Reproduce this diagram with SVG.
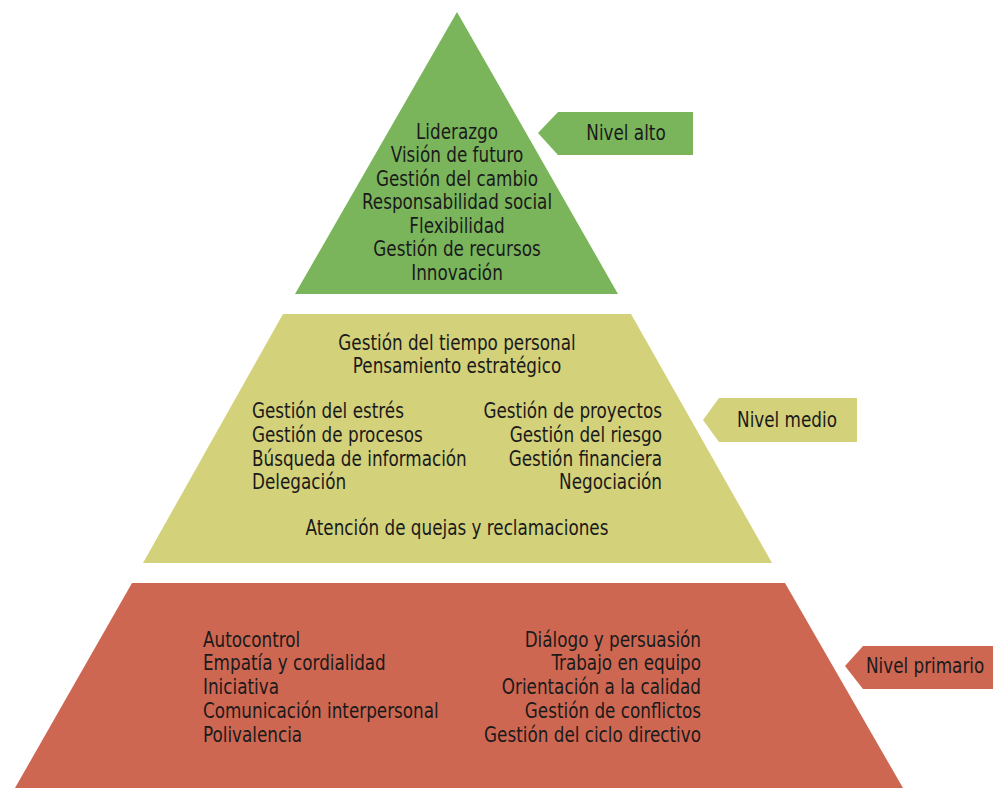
<svg xmlns="http://www.w3.org/2000/svg" width="993" height="788" viewBox="0 0 993 788">
<style>
text{font-family:"DejaVu Sans Condensed","DejaVu Sans",sans-serif;font-stretch:condensed;font-size:21px;fill:#1a1a1a}
.c{text-anchor:middle}
.r{text-anchor:end}
.g{fill:#7ab55c}
.y{fill:#d4d17b}
.o{fill:#ce6752}
</style>
<rect width="993" height="788" fill="#ffffff"/>
<g id="nivel-alto">
<polygon class="g" points="457,12 295,294 618,294"/>
<g transform="translate(457,0) scale(0.89,1)">
<text class="c" x="0" y="139">Liderazgo</text>
<text class="c" x="0" y="162.5">Visión de futuro</text>
<text class="c" x="0" y="186">Gestión del cambio</text>
<text class="c" x="0" y="209.5">Responsabilidad social</text>
<text class="c" x="0" y="233">Flexibilidad</text>
<text class="c" x="0" y="256.5">Gestión de recursos</text>
<text class="c" x="0" y="280">Innovación</text>
</g>
</g>
<g id="nivel-medio">
<polygon class="y" points="283,314 631,314 772,563 143,563"/>
<g transform="translate(457,0) scale(0.89,1)">
<text class="c" x="0" y="350">Gestión del tiempo personal</text>
<text class="c" x="0" y="373">Pensamiento estratégico</text>
<text class="c" x="0" y="535">Atención de quejas y reclamaciones</text>
</g>
<g transform="translate(252,0) scale(0.89,1)">
<text x="0" y="418">Gestión del estrés</text>
<text x="0" y="442">Gestión de procesos</text>
<text x="0" y="466">Búsqueda de información</text>
<text x="0" y="489">Delegación</text>
</g>
<g transform="translate(662,0) scale(0.89,1)">
<text class="r" x="0" y="418">Gestión de proyectos</text>
<text class="r" x="0" y="442">Gestión del riesgo</text>
<text class="r" x="0" y="466">Gestión financiera</text>
<text class="r" x="0" y="489">Negociación</text>
</g>
</g>
<g id="nivel-primario">
<polygon class="o" points="132,583 785,583 903,788 15,788"/>
<g transform="translate(203,0) scale(0.89,1)">
<text x="0" y="647">Autocontrol</text>
<text x="0" y="670">Empatía y cordialidad</text>
<text x="0" y="694">Iniciativa</text>
<text x="0" y="718">Comunicación interpersonal</text>
<text x="0" y="742">Polivalencia</text>
</g>
<g transform="translate(701,0) scale(0.89,1)">
<text class="r" x="0" y="647">Diálogo y persuasión</text>
<text class="r" x="0" y="670">Trabajo en equipo</text>
<text class="r" x="0" y="694">Orientación a la calidad</text>
<text class="r" x="0" y="718">Gestión de conflictos</text>
<text class="r" x="0" y="742">Gestión del ciclo directivo</text>
</g>
</g>
<g id="label-alto">
<polygon class="g" points="538,133 558,112 693,112 693,155 558,155"/>
<text class="c" transform="translate(626,140) scale(0.89,1)">Nivel alto</text>
</g>
<g id="label-medio">
<polygon class="y" points="703,420 719,398 857,398 857,442 719,442"/>
<text class="c" transform="translate(787,427) scale(0.89,1)">Nivel medio</text>
</g>
<g id="label-primario">
<polygon class="o" points="845,666 863,646 993,646 993,689 863,689"/>
<text transform="translate(866,673) scale(0.89,1)">Nivel primario</text>
</g>
</svg>
